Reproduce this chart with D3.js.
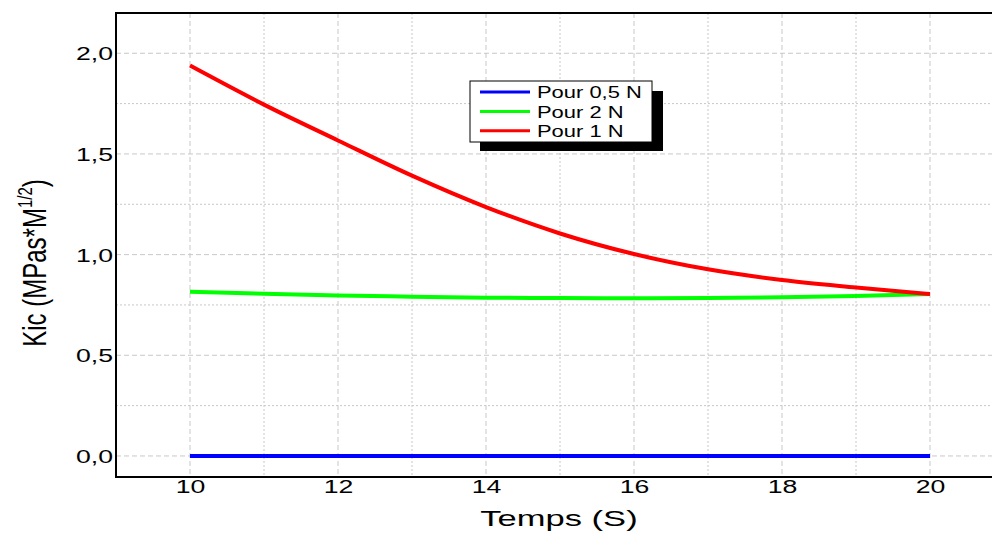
<!DOCTYPE html>
<html>
<head>
<meta charset="utf-8">
<script src="https://cdn.jsdelivr.net/npm/d3@7"></script>
<style>
  body { margin: 0; background: #fff; }
  svg { display: block; font-family: "Liberation Sans", Arial, sans-serif; }
</style>
</head>
<body>
<svg id="chart" width="992" height="533"></svg>
<script>
// values
var temps = [10, 11, 12, 13, 14, 15, 16, 17, 18, 19, 20];
var kic05 = [0, 0, 0, 0, 0, 0, 0, 0, 0, 0, 0];
var kic2 = [0.816, 0.806, 0.797, 0.791, 0.786, 0.784, 0.783, 0.785, 0.788, 0.795, 0.804];
var kic1 = [1.939, 1.745, 1.567, 1.392, 1.236, 1.105, 1.003, 0.927, 0.874, 0.837, 0.804];

var xTicks = [10, 12, 14, 16, 18, 20];
var xMinor = [9, 11, 13, 15, 17, 19, 21];
var yTicks = [0, 0.5, 1.0, 1.5, 2.0];
var yMinor = [0.25, 0.75, 1.25, 1.75];

var series = [
  { name: "Pour 0,5 N", values: kic05, color: "#0000ff" },
  { name: "Pour 2 N", values: kic2, color: "#00ff00" },
  { name: "Pour 1 N", values: kic1, color: "#ff0000" }
];

var pLeft = 116, pRight = 1004, pTop = 13, pBottom = 477;

var x = d3.scaleLinear().domain([9, 21]).range([pLeft, pRight]);
var y = d3.scaleLinear().domain([-0.1045, 2.2]).range([pBottom, pTop]);

var svg = d3.select("#chart");

// grid, major dashed and minor dotted
var grid = svg.append("g").attr("stroke", "#c8c8c8").attr("stroke-width", 1);
grid.selectAll(".vmaj").data(xTicks).enter().append("line")
  .attr("x1", function(d) { return x(d); }).attr("x2", function(d) { return x(d); })
  .attr("y1", pTop).attr("y2", pBottom)
  .attr("stroke-dasharray", "5,3");
grid.selectAll(".vmin").data(xMinor).enter().append("line")
  .attr("x1", function(d) { return x(d); }).attr("x2", function(d) { return x(d); })
  .attr("y1", pTop).attr("y2", pBottom)
  .attr("stroke-dasharray", "2,2");
grid.selectAll(".hmaj").data(yTicks).enter().append("line")
  .attr("y1", function(d) { return y(d); }).attr("y2", function(d) { return y(d); })
  .attr("x1", pLeft).attr("x2", pRight)
  .attr("stroke-dasharray", "5,3");
grid.selectAll(".hmin").data(yMinor).enter().append("line")
  .attr("y1", function(d) { return y(d); }).attr("y2", function(d) { return y(d); })
  .attr("x1", pLeft).attr("x2", pRight)
  .attr("stroke-dasharray", "2,2");

// lines
var line = d3.line()
  .x(function(d, i) { return x(temps[i]); })
  .y(function(d) { return y(d); })
  .curve(d3.curveMonotoneX);

svg.selectAll(".serie").data(series).enter().append("path")
  .attr("fill", "none")
  .attr("stroke", function(d) { return d.color; })
  .attr("stroke-width", 4)
  .attr("d", function(d) { return line(d.values); });

// frame
svg.append("rect")
  .attr("x", pLeft).attr("y", pTop)
  .attr("width", pRight - pLeft).attr("height", pBottom - pTop)
  .attr("fill", "none").attr("stroke", "#000").attr("stroke-width", 2);

// axes
var xAxis = svg.append("g")
  .attr("transform", "translate(0," + pBottom + ")")
  .call(d3.axisBottom(x).tickValues(xTicks).tickSize(0).tickFormat(d3.format("d")));
xAxis.select(".domain").remove();
xAxis.selectAll("text")
  .attr("y", 0).attr("dy", 0)
  .attr("font-size", 18.5).attr("fill", "#000")
  .attr("font-family", "Liberation Sans, Arial, sans-serif")
  .attr("transform", "translate(0,15.5) scale(1.44,1)");

var yAxis = svg.append("g")
  .attr("transform", "translate(" + pLeft + ",0)")
  .call(d3.axisLeft(y).tickValues(yTicks).tickSize(0)
    .tickFormat(function(d) { return d.toFixed(1).replace(".", ","); }));
yAxis.select(".domain").remove();
yAxis.selectAll("text")
  .attr("x", 0).attr("dy", "0.36em")
  .attr("font-size", 18.5).attr("fill", "#000")
  .attr("font-family", "Liberation Sans, Arial, sans-serif")
  .attr("transform", "translate(-3,0) scale(1.44,1)");

// axis titles
svg.append("text")
  .attr("text-anchor", "middle")
  .attr("font-size", 22)
  .attr("transform", "translate(559,526) scale(1.57,1)")
  .text("Temps (S)");

var yt = svg.append("text")
  .attr("text-anchor", "middle")
  .attr("font-size", 24)
  .attr("transform", "translate(46,263) rotate(-90) scale(1,1.38)");
yt.append("tspan").text("Kic (MPas*M");
yt.append("tspan").attr("font-size", 15).attr("dy", -10).text("1/2");
yt.append("tspan").attr("dy", 10).text(")");

// legend
var lg = svg.append("g").attr("transform", "translate(470,81)");
lg.append("rect").attr("x", 10).attr("y", 10).attr("width", 183).attr("height", 60).attr("fill", "#000");
lg.append("rect").attr("x", 0).attr("y", 0).attr("width", 182).attr("height", 61)
  .attr("fill", "#fff").attr("stroke", "#000").attr("stroke-width", 1);
var item = lg.selectAll(".item").data(series).enter().append("g")
  .attr("transform", function(d, i) { return "translate(0," + (11 + i * 19.4) + ")"; });
item.append("line")
  .attr("x1", 10).attr("x2", 60)
  .attr("stroke", function(d) { return d.color; })
  .attr("stroke-width", 3);
item.append("text")
  .attr("font-size", 17)
  .attr("dy", "0.36em")
  .attr("transform", "translate(67,0) scale(1.29,1)")
  .text(function(d) { return d.name; });
</script>
</body>
</html>
